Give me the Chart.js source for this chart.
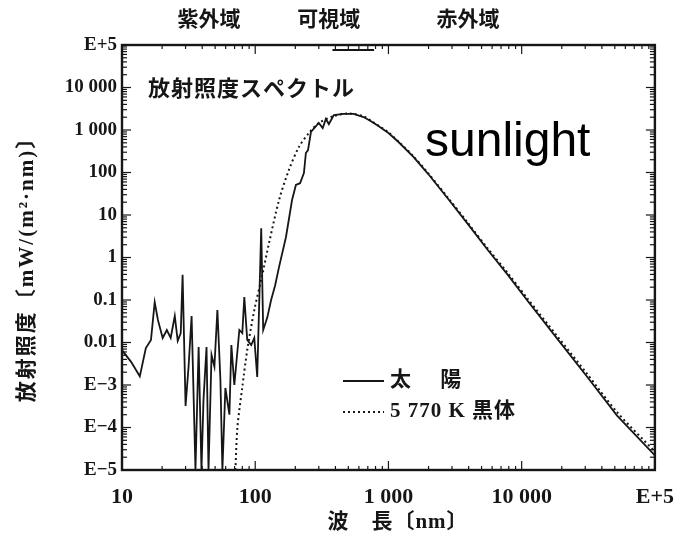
<!DOCTYPE html>
<html>
<head>
<meta charset="utf-8">
<script src="https://cdn.jsdelivr.net/npm/chart.js@4.4.1/dist/chart.umd.min.js"></script>
<style>
  html, body { margin: 0; padding: 0; background: #fff; }
</style>
</head>
<body>
<canvas id="spectrum" width="688" height="544"></canvas>
<script>
// solar irradiance spectrum, nm vs mW/(m2*nm)
const sunWavelength = [
  10, 11.7, 13.6, 15.1, 16.5, 17.6, 18.6, 20.2, 21.7, 23.2, 24.9, 26.2, 27.6, 28.5,
  30, 31.6, 33.3, 35.6, 37.6, 39.5, 40.9, 43.1, 44.6, 47, 49.4, 52, 54.8, 56.7,
  59.7, 64, 66.2, 69.7, 76, 80, 82.8, 87.1, 93.3, 98.4, 103.5, 110.9, 114.8, 123,
  131.6, 141, 151, 170, 189, 202, 217, 232, 240, 249, 262, 300, 321, 339, 357,
  389, 462, 548, 650, 735, 841, 1000, 1190, 1540, 1990, 2810, 3950, 5570, 7870, 11100,
  18600, 31100, 52000, 100000
];
const sunIrradiance = [
  0.0066, 0.0035, 0.0016, 0.0074, 0.0115, 0.089, 0.034, 0.0128, 0.0197, 0.0128, 0.042, 0.011, 0.0167, 0.39,
  0.00032, 0.0027, 0.042, 0.00001, 0.0078, 0.00001, 0.00045, 0.0078, 0.00001, 0.0051, 0.0027, 0.058, 0.0013, 0.00001,
  0.00085, 0.0002, 0.0087, 0.001, 0.0197, 0.0167, 0.118, 0.0115, 0.0087, 0.0128, 0.00154, 4.9, 0.0197, 0.038,
  0.1, 0.22, 0.6, 3.0, 22.5, 51, 56, 97, 288, 338, 898, 1460, 1110, 1820, 1380,
  2250, 2400, 2400, 2020, 1630, 1240, 850, 522, 232, 92, 23.8, 6.1, 1.5, 0.39, 0.095,
  0.012, 0.00154, 0.00019, 0.000022
];

// 5770 K blackbody, scaled to the sun
const bodyWavelength = [
  71, 73.5, 80, 87.1, 98.4, 111, 127, 151, 179, 213, 253, 300, 389, 502, 650, 735, 841,
  1000, 1190, 1540, 1990, 2810, 3950, 5570, 7870, 11100, 18600, 31100, 52000, 100000
];
const bodyIrradiance = [
  0.00001, 0.0001, 0.00089, 0.0066, 0.058, 0.30, 2.2, 22.5, 115, 400, 850, 1460, 2130, 2450, 2100, 1660, 1270,
  870, 535, 240, 96, 25, 6.5, 1.62, 0.43, 0.106, 0.0138, 0.0018, 0.00023, 0.000027
];

const xTickValues = [10, 100, 1000, 10000, 100000];
const xTickLabels = ['10', '100', '1 000', '10 000', 'E+5'];
const yTickValues = [1e-5, 1e-4, 1e-3, 0.01, 0.1, 1, 10, 100, 1000, 10000, 1e5];
const yTickLabels = ['E\u22125', 'E\u22124', 'E\u22123', '0.01', '0.1', '1', '10', '100', '1 000', '10 000', 'E+5'];

const bandLabels = ['紫外域', '可視域', '赤外域'];
const bandAt = [45, 357, 3950];      // wavelength under each band label
const visibleRange = [380, 780];

const seriesLabels = ['太　 陽', '5 770 K 黒体'];

const serif = "'Liberation Serif', 'Noto Sans CJK JP', serif";
const ink = '#161616';

function pairs(xs, ys) {
  return xs.map((x, i) => ({ x: x, y: ys[i] }));
}

function decadeTicks(lo, hi) {
  const out = [];
  for (let e = lo; e < hi; e++) {
    for (let m = 1; m < 10; m++) out.push({ value: m * Math.pow(10, e) });
  }
  out.push({ value: Math.pow(10, hi) });
  return out;
}

function isDecade(v) {
  const l = Math.log10(v);
  return Math.abs(l - Math.round(l)) < 1e-6;
}

function labelFor(values, labels) {
  return function (v) {
    const i = values.findIndex(t => Math.abs(Math.log10(t) - Math.log10(v)) < 1e-6);
    return i >= 0 ? labels[i] : '';
  };
}

// frame, inward ticks and all the annotation text
const decorations = {
  id: 'decorations',
  afterDraw(chart) {
    const { ctx, chartArea: a, scales: { x, y } } = chart;
    const seg = (x1, y1, x2, y2) => { ctx.beginPath(); ctx.moveTo(x1, y1); ctx.lineTo(x2, y2); ctx.stroke(); };
    ctx.save();
    ctx.strokeStyle = ink;

    ctx.lineWidth = 1.2;
    x.ticks.forEach(t => {
      const px = x.getPixelForValue(t.value);
      const len = isDecade(t.value) ? 9 : 4;
      seg(px, a.bottom, px, a.bottom - len);
      seg(px, a.top, px, a.top + len);
    });
    y.ticks.forEach(t => {
      const py = y.getPixelForValue(t.value);
      const len = isDecade(t.value) ? 9 : 5;
      seg(a.left, py, a.left + len, py);
      seg(a.right, py, a.right - len, py);
    });

    ctx.lineWidth = 2.4;
    ctx.strokeRect(a.left, a.top, a.right - a.left, a.bottom - a.top);

    // visible band marker under the top edge
    ctx.lineWidth = 2;
    seg(x.getPixelForValue(visibleRange[0]), a.top + 5, x.getPixelForValue(visibleRange[1]), a.top + 5);

    ctx.fillStyle = ink;
    ctx.textBaseline = 'middle';
    ctx.textAlign = 'center';
    ctx.font = "bold 21px 'Noto Sans CJK JP'";
    bandLabels.forEach((t, i) => ctx.fillText(t, x.getPixelForValue(bandAt[i]), 18));

    ctx.textAlign = 'left';
    ctx.font = "bold 22px 'Noto Sans CJK JP'";
    ctx.letterSpacing = '1px';
    ctx.fillText('放射照度スペクトル', a.left + 26, 88);
    ctx.letterSpacing = '0px';

    ctx.font = "48px 'Liberation Sans', Arial, sans-serif";
    ctx.fillStyle = '#000';
    ctx.textBaseline = 'alphabetic';
    ctx.fillText('sunlight', 425, 156);

    // legend
    ctx.fillStyle = ink;
    ctx.textBaseline = 'middle';
    const rows = [381, 412];
    chart.data.datasets.forEach((ds, i) => {
      ctx.lineWidth = ds.borderWidth;
      ctx.setLineDash(ds.borderDash || []);
      seg(343, rows[i], 384, rows[i]);
      ctx.setLineDash([]);
      ctx.font = "bold 21px " + serif;
      ctx.letterSpacing = '1px';
      ctx.fillText(seriesLabels[i], 390, rows[i]);
    });
    ctx.letterSpacing = '0px';

    // axis titles
    ctx.font = "bold 21px " + serif;
    ctx.textAlign = 'center';
    ctx.letterSpacing = '1px';
    ctx.fillText('波　長〔nm〕', 398, 523);
    ctx.translate(28, 264);
    ctx.rotate(-Math.PI / 2);
    ctx.font = "bold 21px " + serif;
    ctx.letterSpacing = '2px';
    ctx.fillText('放射照度〔mW/(m²·nm)〕', 0, 0);
    ctx.restore();
  }
};

new Chart(document.getElementById('spectrum'), {
  type: 'line',
  data: {
    datasets: [
      {
        label: seriesLabels[0],
        data: pairs(sunWavelength, sunIrradiance),
        borderColor: ink,
        borderWidth: 1.8,
        pointRadius: 0,
        tension: 0
      },
      {
        label: seriesLabels[1],
        data: pairs(bodyWavelength, bodyIrradiance),
        borderColor: ink,
        borderWidth: 2,
        borderDash: [2, 3],
        pointRadius: 0,
        tension: 0.3
      }
    ]
  },
  options: {
    responsive: false,
    animation: false,
    layout: { padding: { top: 45, right: 33, left: 0, bottom: 0 } },
    plugins: { legend: { display: false }, tooltip: { enabled: false } },
    scales: {
      x: {
        type: 'logarithmic',
        min: 10,
        max: 1e5,
        grid: { display: false, drawTicks: false },
        border: { display: false },
        afterBuildTicks: s => { s.ticks = decadeTicks(1, 5); },
        afterFit: s => { s.height = 74; },
        ticks: {
          autoSkip: false,
          maxRotation: 0,
          padding: 14,
          color: ink,
          font: { family: serif, size: 22, weight: 'bold' },
          callback: labelFor(xTickValues, xTickLabels)
        }
      },
      y: {
        type: 'logarithmic',
        min: 1e-5,
        max: 1e5,
        grid: { display: false, drawTicks: false },
        border: { display: false },
        afterBuildTicks: s => { s.ticks = decadeTicks(-5, 5); },
        afterFit: s => { s.width = 122; },
        ticks: {
          autoSkip: false,
          padding: 5,
          color: ink,
          font: { family: serif, size: 19, weight: 'bold' },
          callback: labelFor(yTickValues, yTickLabels)
        }
      }
    }
  },
  plugins: [decorations]
});
</script>
</body>
</html>
